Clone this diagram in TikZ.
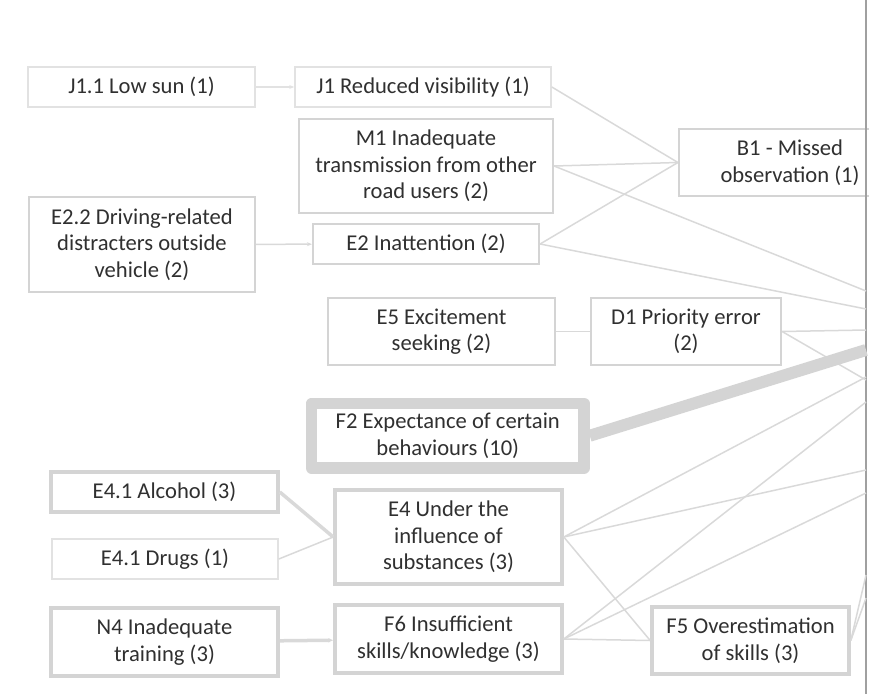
\documentclass[tikz,border=0pt]{standalone}
\usepackage{fontspec}
\setmainfont{Carlito}
\usetikzlibrary{arrows.meta}
\definecolor{edgec}{HTML}{D9D9D9}
\definecolor{boxc}{HTML}{D4D4D4}
\definecolor{thinc}{HTML}{E2E2E2}
\definecolor{txt}{HTML}{303030}
\definecolor{framec}{HTML}{A0A0A0}
\begin{document}
\begin{tikzpicture}[x=1pt,y=-1pt,
  box/.style={draw=boxc, fill=white, align=center, text=txt, inner sep=0pt,
    font=\fontsize{22.6}{26.5}\selectfont},
  thinbox/.style={box, draw=thinc, line width=1.6pt},
  medbox/.style={box, line width=2.2pt},
  thickbox/.style={box, line width=3.6pt},
  bigbox/.style={box, line width=11.5pt, line join=round},
  link/.style={draw=edgec, line width=1.5pt},
  thicklink/.style={draw=edgec, line width=3.5pt},
  hugelink/.style={draw=boxc, line width=12pt},
  tip/.style={-{Stealth[length=5pt,width=4pt]}}
]
\useasboundingbox (0,0) rectangle (869,693);
\clip (0,0) rectangle (869,693);

% nodes
\node[thinbox, minimum width=227pt, minimum height=40pt] (lowsun) at (141.5,87) {J1.1 Low sun (1)};
\node[thinbox, minimum width=256pt, minimum height=40pt] (J1) at (423,87) {J1 Reduced visibility (1)};
\node[medbox, minimum width=254pt, minimum height=94pt] (M1) at (426,166) {M1 Inadequate\\transmission from other\\road users (2)};
\node[medbox, minimum width=226pt, minimum height=95pt] (E22) at (142,244.5) {E2.2 Driving-related\\distracters outside\\vehicle (2)};
\node[medbox, minimum width=226pt, minimum height=40pt] (E2) at (426,244) {E2 Inattention (2)};
\node[medbox, minimum width=222pt, minimum height=67pt] (B1) at (790,162.5) {B1 - Missed\\observation (1)};
\node[medbox, minimum width=227pt, minimum height=67pt] (E5) at (441.5,331.5) {E5 Excitement\\seeking (2)};
\node[medbox, minimum width=190pt, minimum height=67pt] (D1) at (686,331.5) {D1 Priority error\\(2)};
\node[bigbox, minimum width=272.5pt, minimum height=64.5pt] (F2) at (447.75,435.75) {F2 Expectance of certain\\behaviours (10)};
\node[thickbox, minimum width=227pt, minimum height=40pt] (alc) at (164.5,492) {E4.1 Alcohol (3)};
\node[thinbox, minimum width=226pt, minimum height=40pt] (drugs) at (165,559) {E4.1 Drugs (1)};
\node[thickbox, minimum width=227pt, minimum height=94pt] (E4) at (448.5,537) {E4 Under the\\influence of\\substances (3)};
\node[thickbox, minimum width=227pt, minimum height=68pt] (N4) at (164.5,642) {N4 Inadequate\\training (3)};
\node[thickbox, minimum width=227pt, minimum height=68pt] (F6) at (448.5,639) {F6 Insufficient\\skills/knowledge (3)};
\node[thickbox, minimum width=197pt, minimum height=67pt] (F5) at (750.5,640.5) {F5 Overestimation\\of skills (3)};

% off-picture target (left edge only visible)
\node[draw=framec, line width=1.5pt, minimum width=300pt, minimum height=760pt, inner sep=0pt, outer sep=0pt, anchor=west] (tgt) at (866,346.5) {};
\coordinate (tM1) at (866,291);
\coordinate (tE2) at (866,309);
\coordinate (tD1a) at (866,330);
\coordinate (tF2) at (866,350);
\coordinate (tE4a) at (866,377);
\coordinate (tD1b) at (866,380);
\coordinate (tF6a) at (866,402);
\coordinate (tE4b) at (866,470);
\coordinate (tF6b) at (866,493);
\coordinate (tF5a) at (866,575);
\coordinate (tF5b) at (866,598);

% connectors
\draw[link, tip, draw=thinc] (lowsun) -- (J1);
\draw[link, tip] (E22) -- (E2);
\draw[link] (J1.east) -- (B1.west);
\draw[link] (M1.east) -- (B1.west);
\draw[link] (E2.east) -- (B1.west);
\draw[link] (M1.east) -- (tM1);
\draw[link] (E2.east) -- (tE2);
\draw[link] (E5) -- (D1);
\draw[link] (D1.east) -- (tD1a);
\draw[link] (D1.east) -- (tD1b);
\draw[hugelink] (F2.east) -- (tF2);
\draw[thicklink] (alc.east) -- (E4.west);
\draw[link] (drugs.east) -- (E4.west);
\draw[link] (E4.east) -- (tE4a);
\draw[link] (E4.east) -- (tE4b);
\draw[link] (E4.east) -- (F5.west);
\draw[thicklink, tip] (N4) -- (F6);
\draw[link] (F6.east) -- (tF6a);
\draw[link] (F6.east) -- (tF6b);
\draw[link] (F6.east) -- (F5.west);
\draw[link] (F5.east) -- (tF5a);
\draw[link] (F5.east) -- (tF5b);
\end{tikzpicture}
\end{document}
